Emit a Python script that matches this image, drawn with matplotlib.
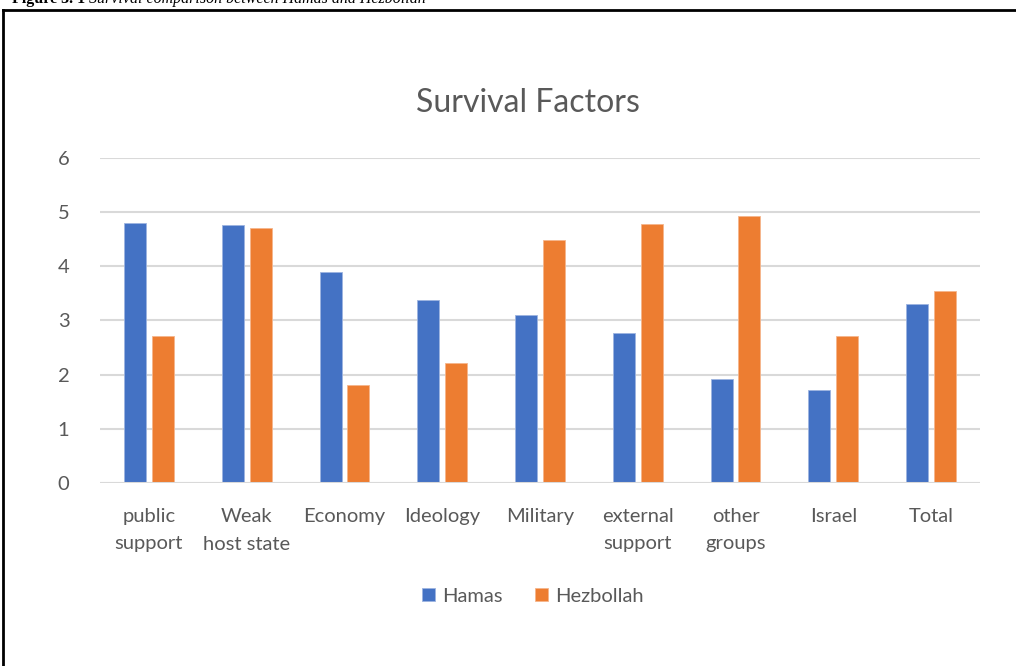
import numpy as np
import matplotlib.pyplot as plt

# Survival factors data
categories = ["public\nsupport", "Weak\nhost state", "Economy", "Ideology", "Military",
              "external\nsupport", "other\ngroups", "Israel", "Total"]
hamas = [4.8, 4.76, 3.9, 3.38, 3.1, 2.76, 1.92, 1.71, 3.3]
hezbollah = [2.71, 4.7, 1.81, 2.21, 4.48, 4.77, 4.93, 2.71, 3.54]
y_ticks = [0, 1, 2, 3, 4, 5, 6]

blue = "#4472C4"; orange = "#ED7D31"; grey_txt = "#595959"; grid_c = "#D9D9D9"
font = "Lato"

fig = plt.figure(figsize=(10.16, 6.66), dpi=100)
ax = fig.add_axes([100/1016, 1-483/666, 880/1016, (483-157.7)/666])

x = np.arange(len(categories))
w = 0.225; off = 0.1425
ax.bar(x - off, hamas, w, color=blue, edgecolor="#9DB4E0", linewidth=0.6, label="Hamas", zorder=3)
ax.bar(x + off, hezbollah, w, color=orange, edgecolor="#F5B58C", linewidth=0.6, label="Hezbollah", zorder=3)

ax.set_xlim(-0.5, len(categories) - 0.5)
ax.set_ylim(0, 6)
ax.set_yticks(y_ticks)
ax.set_yticklabels([str(v) for v in y_ticks], fontsize=14.5, color=grey_txt, family=font)
ax.set_xticks(x)
ax.set_xticklabels(categories, fontsize=14.5, color=grey_txt, family=font, linespacing=1.75)
ax.tick_params(axis="both", length=0)
ax.tick_params(axis="x", pad=18)
ax.tick_params(axis="y", pad=22)
ax.grid(axis="y", color=grid_c, linewidth=1.5, zorder=0)
ax.axhline(0, color=grid_c, linewidth=2.2, zorder=4)
for s in ax.spines.values():
    s.set_visible(False)

fig.text(528/1016, 1-103/666, "Survival Factors", ha="center", va="center",
         fontsize=23, color=grey_txt, family=font)

leg = fig.legend(loc="center", bbox_to_anchor=(533/1016, 1-596/666), ncol=2, frameon=False,
                 prop={"family": font, "size": 14.5}, handlelength=0.65, handleheight=0.65,
                 handletextpad=0.35, columnspacing=1.6)
for t in leg.get_texts():
    t.set_color(grey_txt)

# outer frame and the cut-off caption above it
fig.add_artist(plt.Line2D([3/1016, 3/1016], [0, 1-10/666], color="black", linewidth=2, transform=fig.transFigure))
fig.add_artist(plt.Line2D([3/1016, 1], [1-10/666, 1-10/666], color="black", linewidth=2, transform=fig.transFigure))
cap = fig.text(12/1016, 1-3/666, "Figure 3. 1 ", fontsize=11.5, fontweight="bold",
               family="Liberation Serif", va="baseline", ha="left")
fig.canvas.draw()
bb = cap.get_window_extent()
fig.text(bb.x1/1016, 1-3/666, "Survival comparison between Hamas and Hezbollah", fontsize=11.5,
         style="italic", family="Liberation Serif", va="baseline", ha="left")

fig.savefig("out.png", dpi=100)
